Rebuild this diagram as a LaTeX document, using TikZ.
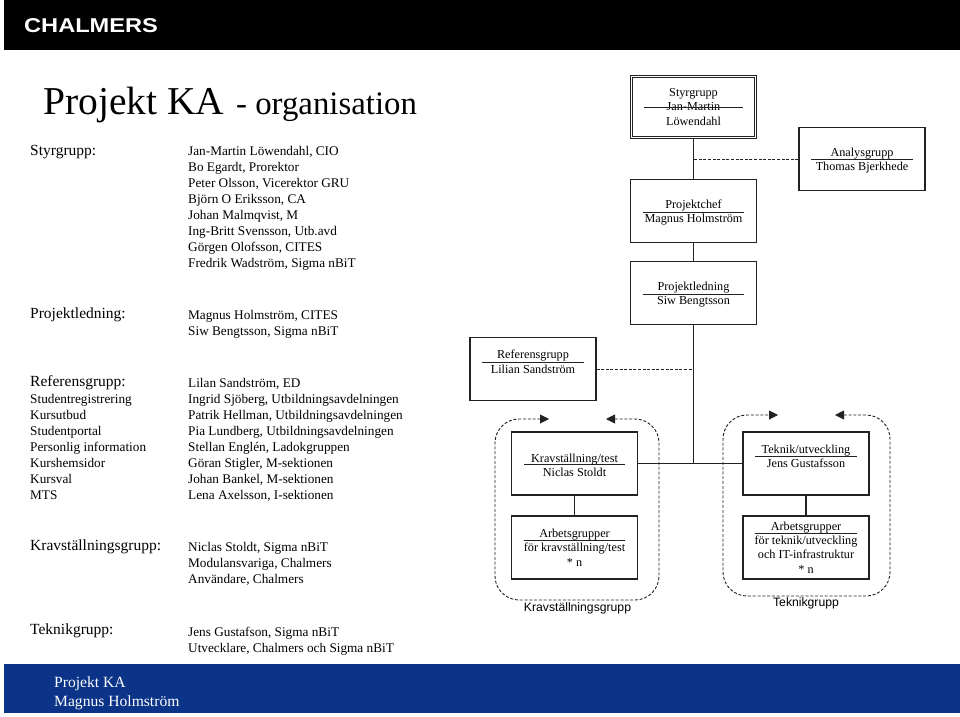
\documentclass[tikz,border=0pt]{standalone}
\usepackage{fontspec}
\setmainfont{Liberation Serif}
\setsansfont{Liberation Sans}
\usetikzlibrary{arrows.meta}

\definecolor{barblue}{HTML}{0B3388}
\definecolor{inkgray}{HTML}{222222}

\newcommand{\rolestrut}{\rule{0pt}{12pt}}

\tikzset{
  orgbox/.style={draw=inkgray, line width=1.1pt, minimum width=126pt, minimum height=63pt,
    inner sep=0pt, align=center, font=\fontsize{12.2}{14.4}\selectfont},
  orglink/.style={draw=inkgray, line width=1.1pt},
  adviselink/.style={draw=inkgray, line width=1pt, dash pattern=on 3pt off 1.6pt},
  namerule/.style={draw=inkgray, line width=1pt},
  grouploop/.style={draw=inkgray, line width=.9pt, dash pattern=on 3pt off 1.8pt,
    rounded corners=24pt, {Triangle[length=9pt,width=9pt]}-{Triangle[length=9pt,width=9pt]}},
  grouphead/.style={anchor=north west, inner sep=0pt, font=\fontsize{15.5}{18}\selectfont},
  memberlist/.style={anchor=north west, inner sep=0pt, align=left, font=\fontsize{13.25}{16}\selectfont},
  groupcaption/.style={inner sep=0pt, font=\sffamily\fontsize{12.2}{15}\selectfont}
}

\begin{document}
\begin{tikzpicture}[x=1pt, y=-1pt]
\useasboundingbox (0,0) rectangle (960,716);

% bars
\fill[black] (4,0) rectangle (960,50);
\fill[barblue] (4,664) rectangle (960,713);
\node[anchor=west, inner sep=0pt, text=white, font=\sffamily\bfseries\fontsize{20}{20}\selectfont]
  (logo) at (24,26) {\scalebox{1.18}[1]{CHALMERS}};
\node[anchor=north west, inner sep=0pt, align=left, text=white, font=\fontsize{15.6}{19}\selectfont]
  (footer) at (54,676) {Projekt KA\\Magnus Holmström};

% title
\node[anchor=base west, inner sep=0pt] (title) at (43,114)
  {\fontsize{39.5}{44}\selectfont Projekt KA\hspace{12pt}\fontsize{32.8}{44}\selectfont - organisation};

% left column
\node[grouphead] (styrhead) at (30,145) {Styrgrupp:};
\node[memberlist] (styrlist) at (188,146.5) {Jan-Martin Löwendahl, CIO\\Bo Egardt, Prorektor\\Peter Olsson, Vicerektor GRU\\Björn O Eriksson, CA\\Johan Malmqvist, M\\Ing-Britt Svensson, Utb.avd\\Görgen Olofsson, CITES\\Fredrik Wadström, Sigma nBiT};

\node[grouphead] (lednhead) at (30,308) {Projektledning:};
\node[memberlist] (lednlist) at (188,310.5) {Magnus Holmström, CITES\\Siw Bengtsson, Sigma nBiT};

\node[grouphead] (refhead) at (30,375.5) {Referensgrupp:};
\node[memberlist] (reftopics) at (30,394.5) {Studentregistrering\\Kursutbud\\Studentportal\\Personlig information\\Kurshemsidor\\Kursval\\MTS};
\node[memberlist] (reflist) at (188,378.5) {Lilan Sandström, ED\\Ingrid Sjöberg, Utbildningsavdelningen\\Patrik Hellman, Utbildningsavdelningen\\Pia Lundberg, Utbildningsavdelningen\\Stellan Englén, Ladokgruppen\\Göran Stigler, M-sektionen\\Johan Bankel, M-sektionen\\Lena Axelsson, I-sektionen};

\node[grouphead] (kravhead) at (30,540) {Kravställningsgrupp:};
\node[memberlist] (kravlist) at (188,542.5) {Niclas Stoldt, Sigma nBiT\\Modulansvariga, Chalmers\\Användare, Chalmers};

\node[grouphead] (tekhead) at (30,624) {Teknikgrupp:};
\node[memberlist] (teklist) at (188,626.5) {Jens Gustafson, Sigma nBiT\\Utvecklare, Chalmers och Sigma nBiT};

% organisation boxes
\node[orgbox, double=white, double distance=1.6pt, minimum width=124pt, minimum height=61pt] (styr) at (693.5,107)
  {Styrgrupp\\Jan-Martin\\Löwendahl};
\node[orgbox] (analys) at (862,159) {\rolestrut Analysgrupp\\Thomas Bjerkhede};
\node[orgbox] (chef) at (693.5,211) {\rolestrut Projektchef\\Magnus Holmström};
\node[orgbox] (ledn) at (693.5,293) {\rolestrut Projektledning\\Siw Bengtsson};
\node[orgbox] (ref) at (533,369) {Referensgrupp\\Lilian Sandström\\~};
\node[orgbox] (krav) at (574.5,463.5) {\rolestrut Kravställning/test\\Niclas Stoldt};
\node[orgbox] (kravarb) at (574.5,547.5) {Arbetsgrupper\\för kravställning/test\\* n};
\node[orgbox] (tek) at (806,463.5) {Teknik/utveckling\\Jens Gustafsson\\~};
\node[orgbox] (tekarb) at (806,547.5) {Arbetsgrupper\\för teknik/utveckling\\och IT-infrastruktur\\* n};

% rule under each role name
\foreach \boxname/\ruley in {styr/107, analys/159.5, chef/212, ledn/294, ref/362, krav/464, kravarb/540.5, tek/456, tekarb/533.5}
  \draw[namerule] ([xshift=13pt]\boxname.west |- 0,\ruley) -- ([xshift=-13pt]\boxname.east |- 0,\ruley);

% connectors
\draw[orglink] (styr) -- (chef);
\draw[orglink] (chef) -- (ledn);
\draw[orglink] (ledn) -- (ledn |- krav);
\draw[orglink] (krav) -- (tek);
\draw[orglink] (krav) -- (kravarb);
\draw[orglink] (tek) -- (tekarb);
\draw[adviselink] (analys.west) -- (analys.west -| styr.south);
\draw[adviselink] (ref.east) -- (ref.east -| ledn.south);

% dashed group outlines
\draw[grouploop] (606,419) -- (659,419) -- (659,600) -- (495,600) -- (495,419) -- (549,419);
\draw[grouploop] (835,415) -- (890,415) -- (890,596) -- (723,596) -- (723,415) -- (778,415);

\node[groupcaption] (kravcaption) at (577.5,608) {Kravställningsgrupp};
\node[groupcaption] (tekcaption) at (806,603.5) {Teknikgrupp};
\end{tikzpicture}
\end{document}
